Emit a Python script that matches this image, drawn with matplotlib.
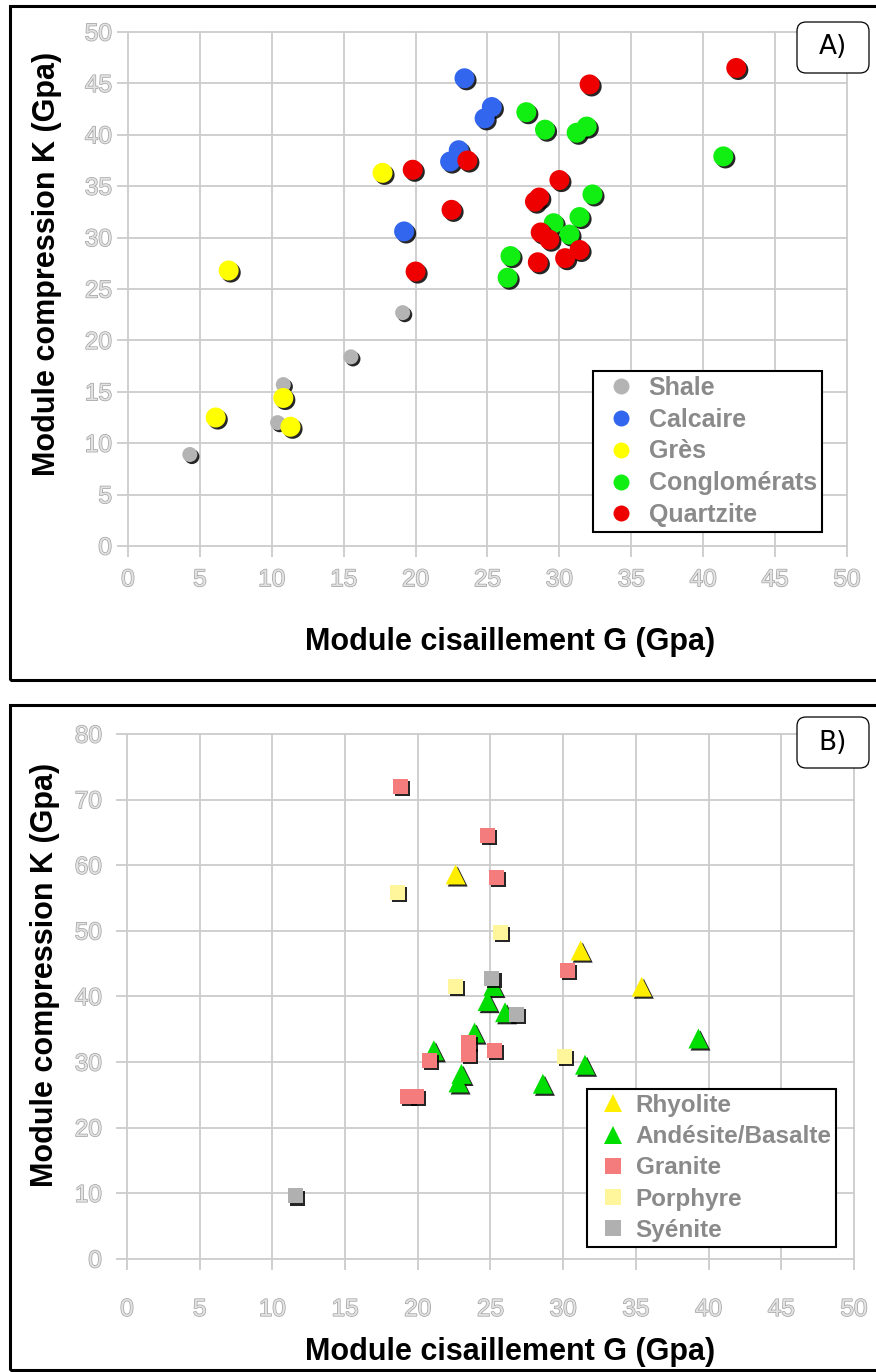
import matplotlib

matplotlib.use("Agg")

import matplotlib.pyplot as plt
import matplotlib.patheffects as pe
from matplotlib.lines import Line2D
from matplotlib.patches import Rectangle, FancyBboxPatch

plt.rcParams["font.family"] = ["Liberation Sans", "DejaVu Sans"]

# ---- panel A : roches sedimentaires (G, K en GPa)
shale_g = [4.3, 10.4, 10.8, 15.5, 19.1]
shale_k = [8.9, 12.0, 15.7, 18.4, 22.7]
calcaire_g = [19.2, 23.4, 25.3, 24.8, 23.0, 22.4]
calcaire_k = [30.6, 45.5, 42.7, 41.6, 38.5, 37.4]
gres_g = [7.0, 17.7, 6.1, 10.8, 11.3]
gres_k = [26.8, 36.3, 12.5, 14.4, 11.6]
conglo_g = [27.7, 29.0, 31.2, 31.9, 32.3, 31.4, 29.6, 30.7, 26.6, 26.4, 41.4]
conglo_k = [42.2, 40.5, 40.2, 40.8, 34.2, 32.0, 31.4, 30.3, 28.2, 26.1, 37.9]
quartzite_g = [42.3, 32.1, 19.8, 23.6, 22.5, 20.0, 30.0, 28.3, 28.6, 28.7, 29.3, 28.5, 30.4, 31.4]
quartzite_k = [46.5, 44.9, 36.6, 37.5, 32.7, 26.7, 35.6, 33.5, 33.9, 30.5, 29.8, 27.6, 28.0, 28.8]

# ---- panel B : roches magmatiques
rhyolite_g = [22.6, 31.2, 35.4]
rhyolite_k = [58.6, 47.0, 41.5]
andesite_g = [25.2, 24.8, 26.0, 23.9, 21.1, 23.0, 22.8, 28.6, 31.5, 39.3]
andesite_k = [41.6, 39.3, 37.6, 34.5, 31.8, 28.2, 26.9, 26.7, 29.6, 33.6]
granite_g = [18.8, 24.8, 25.4, 30.3, 23.5, 23.5, 25.3, 20.8, 19.3, 19.9]
granite_k = [72.0, 64.6, 58.2, 44.0, 33.0, 31.2, 31.8, 30.3, 24.8, 24.8]
porphyre_g = [18.6, 25.7, 22.6, 30.1]
porphyre_k = [55.9, 49.7, 41.5, 30.8]
syenite_g = [11.6, 25.1, 26.8]
syenite_k = [9.6, 42.8, 37.3]

SHADOW = [pe.SimplePatchShadow(offset=(1.5, -1.5), shadow_rgbFace="black", alpha=0.85), pe.Normal()]
TICK_FX = [pe.withStroke(linewidth=1.0, foreground="#a0a0a0")]


def _style_axes(ax, ymax, ystep, xpad, ypad):
    ax.set_xlim(-0.1, 50.1)
    ax.set_ylim(-ymax * 0.002, ymax * 1.002)
    ax.set_xticks(range(0, 51, 5))
    ax.set_yticks(range(0, ymax + 1, ystep))
    ax.grid(True, color="#cccccc", linewidth=1.3)
    ax.set_axisbelow(True)
    for spine in ax.spines.values():
        spine.set_visible(False)
    ax.tick_params(length=7, width=1.3, color="#cccccc", labelsize=17.5, labelcolor="#e2e2e2")
    ax.tick_params(axis="x", pad=xpad)
    ax.tick_params(axis="y", pad=ypad)
    for lab in ax.get_xticklabels() + ax.get_yticklabels():
        lab.set_path_effects(TICK_FX)


def _legend(ax, fig, handles, left_px, top_px, size, spacing, hlen, hpad):
    leg = ax.legend(
        handles=handles,
        loc="upper left",
        bbox_to_anchor=(left_px / 876, 1 - top_px / 1372),
        bbox_transform=fig.transFigure,
        borderaxespad=0,
        fancybox=False,
        edgecolor="black",
        framealpha=1,
        prop={"weight": "bold", "size": size},
        labelcolor="#8a8a8a",
        borderpad=0.2,
        labelspacing=spacing,
        handlelength=hlen,
        handletextpad=hpad,
    )
    leg.get_frame().set_linewidth(1.5)
    return leg


def _panel_tag(fig, text, x_px, y_px):
    w, h = 0.72, 0.51
    x0 = x_px / 100
    y0 = (1372 - y_px) / 100 - h
    box = FancyBboxPatch(
        (x0, y0), w, h,
        boxstyle="round,pad=0,rounding_size=0.09",
        transform=fig.dpi_scale_trans,
        facecolor="white", edgecolor="black", linewidth=0.9,
    )
    fig.add_artist(box)
    fig.text(x0 + w / 2, y0 + h / 2, text, transform=fig.dpi_scale_trans,
             ha="center", va="center", fontsize=19, family="DejaVu Sans")


fig = plt.figure(figsize=(8.76, 13.72), dpi=100)

# frames around the two panels
for top_px, bottom_px in [(6, 680), (705, 1370)]:
    fig.add_artist(Rectangle((0.10, (1372 - bottom_px) / 100), 8.9, (bottom_px - top_px) / 100,
                             transform=fig.dpi_scale_trans, fill=False,
                             edgecolor="black", linewidth=2.2))

# ---------------- panel A
ax_a = fig.add_axes([0.14447, 0.60129, 0.82406, 0.37614])
_style_axes(ax_a, 50, 5, xpad=9, ypad=3.5)
ax_a.scatter(shale_g, shale_k, s=117, color="#b4b4b4", linewidths=0, path_effects=SHADOW)
ax_a.scatter(calcaire_g, calcaire_k, s=207, color="#3366ee", linewidths=0, path_effects=SHADOW)
ax_a.scatter(gres_g, gres_k, s=207, color="#ffff00", linewidths=0, path_effects=SHADOW)
ax_a.scatter(conglo_g, conglo_k, s=207, color="#11ee11", linewidths=0, path_effects=SHADOW)
ax_a.scatter(quartzite_g, quartzite_k, s=207, color="#ee0000", linewidths=0, path_effects=SHADOW)

labels_a = ["Shale", "Calcaire", "Grès", "Conglomérats", "Quartzite"]
colors_a = ["#b4b4b4", "#3366ee", "#ffff00", "#11ee11", "#ee0000"]
handles_a = [Line2D([], [], marker="o", linestyle="none", markersize=11.5,
                    markerfacecolor=c, markeredgewidth=0, label=l)
             for c, l in zip(colors_a, labels_a)]
_legend(ax_a, fig, handles_a, 593, 371, 18, 0.31, 1.8, 0.22)

fig.text(0.0537, 0.8076, "Module compression K (Gpa)", rotation=90, ha="center", va="center",
         fontsize=22, fontweight="bold")
fig.text(0.582, 0.532, "Module cisaillement G (Gpa)", ha="center", va="center",
         fontsize=22, fontweight="bold")
_panel_tag(fig, "A)", 797, 22)

# ---------------- panel B
ax_b = fig.add_axes([0.14332, 0.08165, 0.83322, 0.38408])
_style_axes(ax_b, 80, 10, xpad=21, ypad=10)
ax_b.scatter(rhyolite_g, rhyolite_k, s=207, marker="^", color="#ffee00", linewidths=0, path_effects=SHADOW)
ax_b.scatter(andesite_g, andesite_k, s=207, marker="^", color="#00dd00", linewidths=0, path_effects=SHADOW)
ax_b.scatter(granite_g, granite_k, s=117, marker="s", color="#f47c7c", linewidths=0, path_effects=SHADOW)
ax_b.scatter(porphyre_g, porphyre_k, s=117, marker="s", color="#fff59a", linewidths=0, path_effects=SHADOW)
ax_b.scatter(syenite_g, syenite_k, s=117, marker="s", color="#b0b0b0", linewidths=0, path_effects=SHADOW)

labels_b = ["Rhyolite", "Andésite/Basalte", "Granite", "Porphyre", "Syénite"]
markers_b = ["^", "^", "s", "s", "s"]
colors_b = ["#ffee00", "#00dd00", "#f47c7c", "#fff59a", "#b0b0b0"]
handles_b = [Line2D([], [], marker=m, linestyle="none",
                    markersize=12.5 if m == "^" else 11.5,
                    markerfacecolor=c, markeredgewidth=0, label=l)
             for m, c, l in zip(markers_b, colors_b, labels_b)]
_legend(ax_b, fig, handles_b, 587, 1089, 17.5, 0.34, 1.7, 0.1)

fig.text(0.0514, 0.2894, "Module compression K (Gpa)", rotation=90, ha="center", va="center",
         fontsize=22, fontweight="bold")
fig.text(0.582, 0.0146, "Module cisaillement G (Gpa)", ha="center", va="center",
         fontsize=22, fontweight="bold")
_panel_tag(fig, "B)", 797, 717)

fig.savefig("out.png", dpi=100, facecolor="white")
plt.close(fig)
